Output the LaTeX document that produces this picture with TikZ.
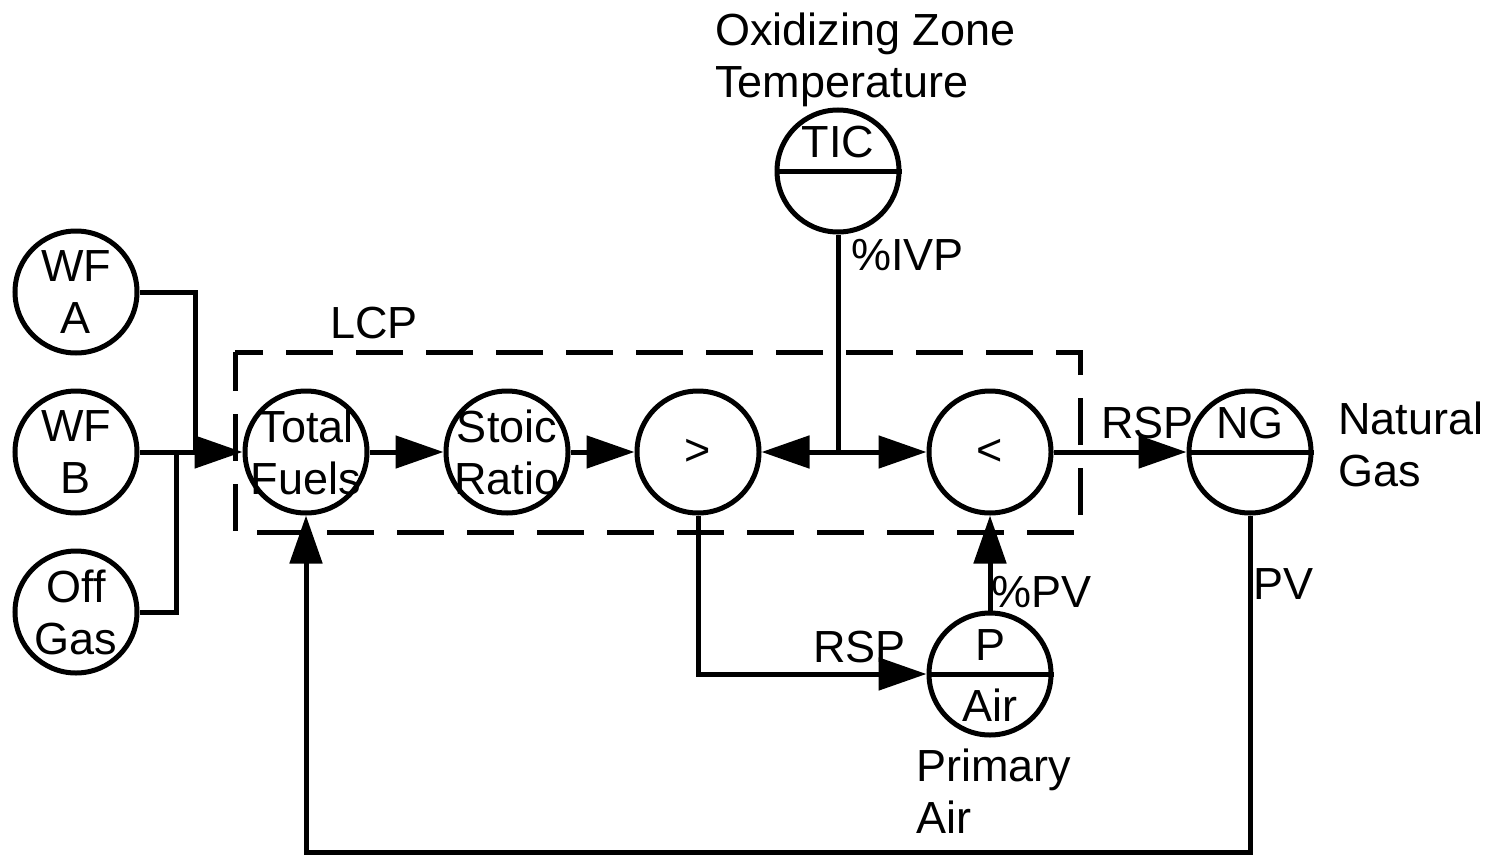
\documentclass[tikz,border=0pt]{standalone}
\usepackage{fontspec}
\setmainfont{Liberation Sans}
\usetikzlibrary{arrows.meta, positioning}

\begin{document}
\begin{tikzpicture}[x=0.5pt, y=-0.5pt, on grid,
  inst/.style={circle, draw, line width=2.5pt, minimum size=61pt, inner sep=0pt},
  txt/.style={font=\fontsize{22.5}{26}\selectfont, inner sep=0pt, align=center},
  lbl/.style={font=\fontsize{22.5}{26}\selectfont, inner sep=0pt, align=left},
  uptxt/.style={txt, yshift=14.5pt},
  lowtxt/.style={txt, yshift=-15.5pt},
  wire/.style={line width=2.5pt},
  arr/.style={wire, -{Triangle[length=24pt, width=16pt]}},
  lcpbox/.style={line width=2.5pt, dash pattern=on 23.5pt off 11.5pt, dash phase=4pt}
]
\useasboundingbox (0,0) rectangle (1493,856);
% fuel flows
\node[inst, label={[txt]center:{WF\\A}}] (wfa) at (76,292) {};
\node[inst, label={[txt]center:{WF\\B}}] (wfb) at (76,452) {};
\node[inst, label={[txt]center:{Off\\Gas}}] (offgas) at (76,612) {};
% logic chain
\node[inst, label={[txt]center:{Total\\Fuels}}] (tf) at (306,452) {};
\node[inst, right=100.5pt of tf, label={[txt]center:{Stoic\\Ratio}}] (stoic) {};
\node[inst, right=95.5pt of stoic, label={[txt]center:{>}}] (gt) {};
\node[inst, right=146pt of gt, label={[txt]center:{<}}] (lt) {};
\node[inst, right=130pt of lt, label={[uptxt]center:NG}] (ng) {};
\node[inst, below=111pt of lt, label={[uptxt]center:P}, label={[lowtxt]center:Air}] (air) {};
\node[inst, label={[uptxt]center:TIC}] (tic) at (838,171) {};
\draw[wire] (ng.west) -- (ng.east);
\draw[wire] (air.west) -- (air.east);
\draw[wire] (tic.west) -- (tic.east);
% LCP boundary
\draw[lcpbox] (235,352) rectangle (1080,532);
% connectors
\coordinate (ajoin) at (195,452);
\coordinate (gjoin) at (176,452);
\coordinate (tjoin) at (838,452);
\coordinate (fbline) at (0,852);
\draw[wire] (wfa) -| (ajoin);
\draw[wire] (offgas) -| (gjoin);
\draw[arr] (wfb) -- (tf);
\draw[arr] (tf) -- (stoic);
\draw[arr] (stoic) -- (gt);
\draw[wire] (tic) -- (tjoin);
\draw[arr] (tjoin) -- (gt);
\draw[arr] (tjoin) -- (lt);
\draw[arr] (lt) -- (ng);
\draw[arr] (gt) |- (air);
\draw[arr] (air) -- (lt);
\draw[arr] (ng) -- (ng |- fbline) -| (tf);
% labels
\node[lbl, anchor=base west] (lcplbl) at (330,338) {LCP};
\node[lbl, anchor=base west] (ivplbl) at (851,270) {\%IVP};
\node[lbl, anchor=base west] (rsplbl) at (1101,438) {RSP};
\node[lbl, anchor=base west] (rspair) at (813,662) {RSP};
\node[lbl, anchor=base west] (pvair) at (991,607) {\%PV};
\node[lbl, anchor=base west] (pvng) at (1253,599) {PV};
\node[lbl, anchor=north west] (oxlbl) at (715,12) {Oxidizing Zone\\Temperature};
\node[lbl, anchor=north west] (nglbl) at (1338,401) {Natural\\Gas};
\node[lbl, anchor=north west] (airlbl) at (916,748) {Primary\\Air};
\end{tikzpicture}
\end{document}
